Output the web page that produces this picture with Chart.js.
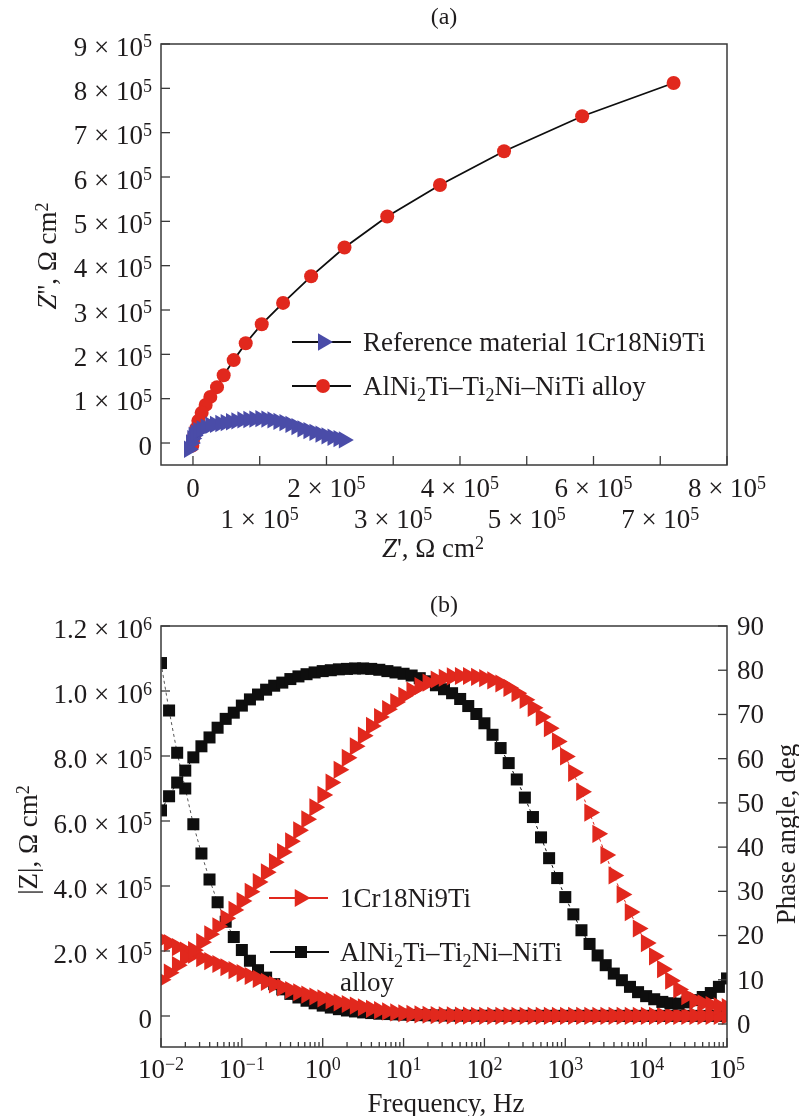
<!DOCTYPE html>
<html>
<head>
<meta charset="utf-8">
<title>Impedance spectra</title>
<script src="https://cdn.jsdelivr.net/npm/chart.js@4.4.1/dist/chart.umd.min.js"></script>
<style>
  html, body { margin: 0; padding: 0; background: #fff; }
  canvas { display: block; }
</style>
</head>
<body>
<canvas id="nyquist" width="799" height="590"></canvas>
<canvas id="bode" width="799" height="526"></canvas>
<script>
// ============================
// EIS figure: (a) Nyquist, (b) Bode
// ============================

// -----------------------
// (a) Nyquist data, Ω cm²
// -----------------------
const refZre = [-6000, -3000, -1000, 1000, 4000, 8000, 13000, 19000, 26000, 33000, 41000, 49000, 57000, 65000, 74000, 83000,
  92000, 101000, 110000, 119000, 128000, 137000, 146000, 155000, 164000, 173000, 182000, 191000, 200000, 209000, 218000, 226000];
const refZim = [-14000, 0, 10000, 17000, 23000, 28000, 32000, 36000, 40000, 42000, 44000, 46000, 48000, 50000, 52000, 53000,
  54000, 55000, 54000, 52000, 49000, 46000, 42000, 37000, 32000, 28000, 24000, 20000, 16000, 13000, 10000, 7000];

const alloyZre = [720000, 583000, 466000, 370000, 291000, 227000, 177000, 135000, 103000, 79000, 61000,
  46000, 36000, 26000, 19000, 13000, 8000, 5000, 2000, 0, -1000];
const alloyZim = [812000, 737000, 658000, 582000, 511000, 441000, 376000, 316000, 268000, 225000, 187000,
  153000, 126000, 104000, 86000, 68000, 50000, 33000, 18000, 5000, -6000];

const nyqXTicks = [0, 100000, 200000, 300000, 400000, 500000, 600000, 700000, 800000];
const nyqYTicks = [0, 100000, 200000, 300000, 400000, 500000, 600000, 700000, 800000, 900000];

// -----------------------
// (b) Bode data (10 points per decade)
// -----------------------
const logFreq = [-2.0, -1.9, -1.8, -1.7, -1.6, -1.5, -1.4, -1.3, -1.2, -1.1,
  -1.0, -0.9, -0.8, -0.7, -0.6, -0.5, -0.4, -0.3, -0.2, -0.1,
  0.0, 0.1, 0.2, 0.3, 0.4, 0.5, 0.6, 0.7, 0.8, 0.9,
  1.0, 1.1, 1.2, 1.3, 1.4, 1.5, 1.6, 1.7, 1.8, 1.9,
  2.0, 2.1, 2.2, 2.3, 2.4, 2.5, 2.6, 2.7, 2.8, 2.9,
  3.0, 3.1, 3.2, 3.3, 3.4, 3.5, 3.6, 3.7, 3.8, 3.9,
  4.0, 4.1, 4.2, 4.3, 4.4, 4.5, 4.6, 4.7, 4.8, 4.9,
  5.0];

const refModZ = [235000, 224000, 212000, 201000, 189000, 178000, 169000, 160000, 150000, 141000,
  132000, 123000, 114000, 105000, 97000, 88000, 80000, 73000, 66000, 60000,
  54000, 48000, 42000, 37000, 32000, 27000, 22000, 18000, 14000, 11000,
  8500, 6500, 5000, 3800, 2900, 2200, 1700, 1300, 1000, 800,
  650, 550, 470, 410, 360, 320, 290, 270, 250, 235,
  225, 215, 205, 200, 195, 190, 186, 183, 180, 178,
  176, 174, 172, 171, 170, 169, 168, 167, 166, 165,
  164];
const refPhase = [10.0, 11.6, 13.3, 15.0, 16.7, 18.5, 20.3, 22.1, 23.9, 25.8,
  27.8, 29.9, 32.1, 34.3, 36.6, 38.9, 41.3, 43.8, 46.3, 49.0,
  51.8, 54.6, 57.5, 60.2, 62.8, 65.2, 67.4, 69.4, 71.2, 72.8,
  74.2, 75.4, 76.4, 77.2, 77.9, 78.3, 78.6, 78.7, 78.7, 78.5,
  78.2, 77.7, 77.0, 76.0, 74.8, 73.3, 71.5, 69.4, 66.9, 63.9,
  60.5, 56.8, 52.5, 47.8, 43.0, 38.2, 33.6, 29.3, 25.3, 21.6,
  18.3, 15.3, 12.4, 9.8, 7.8, 6.3, 5.3, 4.7, 4.3, 4.0,
  3.8];
const alloyModZ = [1086000, 940000, 810000, 700000, 590000, 500000, 420000, 350000, 290000, 243000,
  203000, 170000, 141000, 118000, 98000, 82000, 68000, 57000, 47000, 39000,
  32000, 26000, 21000, 17000, 14000, 11000, 9000, 7000, 6000, 5000,
  4000, 3200, 2600, 2100, 1700, 1400, 1200, 1000, 900, 800,
  700, 650, 600, 560, 530, 500, 480, 460, 440, 430,
  420, 410, 400, 395, 390, 385, 380, 378, 376, 374,
  372, 370, 369, 368, 367, 366, 365, 364, 363, 362,
  361];
const alloyPhase = [48.3, 51.5, 54.6, 57.3, 60.3, 62.8, 64.8, 67.0, 69.0, 70.4,
  72.0, 73.4, 74.5, 75.6, 76.5, 77.2, 78.0, 78.6, 79.1, 79.5,
  79.8, 80.0, 80.2, 80.3, 80.4, 80.4, 80.3, 80.1, 79.8, 79.5,
  79.2, 78.8, 78.2, 77.5, 76.6, 75.7, 74.8, 73.5, 71.9, 70.1,
  68.0, 65.4, 62.4, 59.0, 55.3, 51.2, 46.8, 42.2, 37.5, 33.0,
  28.7, 24.8, 21.2, 18.1, 15.5, 13.3, 11.4, 9.9, 8.4, 7.2,
  6.3, 5.6, 5.0, 4.7, 4.6, 4.9, 5.4, 6.1, 7.0, 8.4,
  10.3];

const bodeModTicks = [0, 200000, 400000, 600000, 800000, 1000000, 1200000];
const bodePhaseTicks = [0, 10, 20, 30, 40, 50, 60, 70, 80, 90];
const bodeDecades = [-2, -1, 0, 1, 2, 3, 4, 5];

// -----------------------
// Look
// -----------------------
const SERIF = '"Liberation Serif", "Times New Roman", Times, serif';
const INK = '#1f1c1d';
const RED = '#e1281d';
const BLUE = '#4a4ca8';
const BLACK = '#0e0e0e';
const FRAME = '#3a3a3a';
const FS = 27;

const TRI_A = 10;    // Nyquist triangles
const DOT_A = 7;     // Nyquist circles
const TRI_B = 10.5;  // Bode triangles
const SQ_B = 8.5;    // Bode squares

// -----------------------
// Text helpers (sub/superscripts)
// -----------------------
function setFont(ctx, mode, size) {
  const s = (mode === 'sup' || mode === 'sub') ? Math.round(size * 0.68) : size;
  ctx.font = (mode === 'it' ? 'italic ' : '') + s + 'px ' + SERIF;
}

function richWidth(ctx, parts, size) {
  let w = 0;
  for (const [t, m] of parts) { setFont(ctx, m, size); w += ctx.measureText(t).width; }
  return w;
}

function drawRich(ctx, parts, x, y, align = 'left', size = FS) {
  const w = richWidth(ctx, parts, size);
  let cx = align === 'center' ? x - w / 2 : align === 'right' ? x - w : x;
  ctx.fillStyle = INK;
  ctx.textAlign = 'left';
  ctx.textBaseline = 'alphabetic';
  for (const [t, m] of parts) {
    setFont(ctx, m, size);
    const dy = m === 'sup' ? -size * 0.3 : m === 'sub' ? size * 0.24 : 0;
    ctx.fillText(t, cx, y + dy);
    cx += ctx.measureText(t).width;
  }
}

function drawRotated(ctx, parts, cx, cy, size = FS) {
  ctx.save();
  ctx.translate(cx, cy);
  ctx.rotate(-Math.PI / 2);
  drawRich(ctx, parts, 0, size * 0.33, 'center', size);
  ctx.restore();
}

function sciParts(v, digits) {
  if (v === 0) return [['0', '']];
  const e = Math.floor(Math.log10(v) + 1e-9);
  const m = v / Math.pow(10, e);
  return [[m.toFixed(digits) + ' \u00d7 10', ''], [String(e), 'sup']];
}

function decadeParts(e) {
  return [['10', ''], [e < 0 ? '\u2212' + (-e) : String(e), 'sup']];
}

function tickLine(ctx, x1, y1, x2, y2) {
  ctx.beginPath();
  ctx.moveTo(x1, y1);
  ctx.lineTo(x2, y2);
  ctx.stroke();
}

function frame(ctx, a) {
  ctx.strokeStyle = FRAME;
  ctx.lineWidth = 1.5;
  ctx.strokeRect(a.left, a.top, a.right - a.left, a.bottom - a.top);
}

function legendRow(ctx, x, y, marker, lineColor) {
  ctx.save();
  ctx.strokeStyle = lineColor;
  ctx.lineWidth = 2;
  tickLine(ctx, x - 31, y, x + 28, y);
  ctx.fillStyle = marker.color;
  Chart.helpers.drawPoint(ctx, { pointStyle: marker.style, rotation: marker.rotation || 0, radius: marker.radius, borderWidth: 0 }, x, y);
  ctx.restore();
}

const alloyName = [['AlNi', ''], ['2', 'sub'], ['Ti\u2013Ti', ''], ['2', 'sub'], ['Ni\u2013NiTi', '']];

// -----------------------
// (a) Nyquist
// -----------------------
const nyquistAxes = {
  id: 'nyquistAxes',
  afterDraw(chart) {
    const { ctx, chartArea: a, scales: { x, y } } = chart;
    ctx.save();
    ctx.strokeStyle = FRAME;
    ctx.lineWidth = 1.3;
    nyqXTicks.forEach((v, i) => {
      const px = x.getPixelForValue(v);
      tickLine(ctx, px, a.bottom, px, a.bottom - 9);
      const row = i % 2 === 0 ? 0 : 1;
      drawRich(ctx, sciParts(v, 0), px, a.bottom + 32 + row * 31, 'center');
    });
    nyqYTicks.forEach(v => {
      const py = y.getPixelForValue(v);
      tickLine(ctx, a.left, py, a.left + 9, py);
      drawRich(ctx, sciParts(v, 0), a.left - 9, py + 11.5, 'right');
    });
    frame(ctx, a);

    drawRich(ctx, [['(a)', '']], 444, 24, 'center', 24);
    drawRich(ctx, [['Z', 'it'], ["', \u03a9 cm", ''], ['2', 'sup']], 433, 557, 'center');
    drawRotated(ctx, [['Z', 'it'], ["'', \u03a9 cm", ''], ['2', 'sup']], 47, 256);

    // legend
    legendRow(ctx, 323, 342, { style: 'triangle', rotation: 90, radius: TRI_A, color: BLUE }, BLACK);
    drawRich(ctx, [['Reference material 1Cr18Ni9Ti', '']], 363, 351);
    legendRow(ctx, 323, 386, { style: 'circle', radius: DOT_A, color: RED }, BLACK);
    drawRich(ctx, alloyName.concat([[' alloy', '']]), 363, 395);
    ctx.restore();
  }
};

new Chart(document.getElementById('nyquist'), {
  type: 'line',
  data: {
    datasets: [
      {
        label: 'Reference material 1Cr18Ni9Ti',
        data: refZre.map((v, i) => ({ x: v, y: refZim[i] })),
        borderColor: BLACK, borderWidth: 1.8,
        pointStyle: 'triangle', rotation: 90, pointRadius: TRI_A,
        pointBackgroundColor: BLUE, pointBorderWidth: 0
      },
      {
        label: 'AlNi2Ti-Ti2Ni-NiTi alloy',
        data: alloyZre.map((v, i) => ({ x: v, y: alloyZim[i] })),
        borderColor: BLACK, borderWidth: 1.8,
        pointStyle: 'circle', pointRadius: DOT_A,
        pointBackgroundColor: RED, pointBorderWidth: 0
      }
    ]
  },
  options: {
    responsive: false,
    animation: false,
    devicePixelRatio: 1,
    events: [],
    layout: { padding: { left: 161, right: 72, top: 44, bottom: 125 } },
    scales: {
      x: { type: 'linear', min: -47900, max: 800000, display: false },
      y: { type: 'linear', min: -49600, max: 900000, display: false }
    },
    plugins: { legend: { display: false }, tooltip: { enabled: false } }
  },
  plugins: [nyquistAxes]
});

// -----------------------
// (b) Bode
// -----------------------
const bodeAxes = {
  id: 'bodeAxes',
  afterDraw(chart) {
    const { ctx, chartArea: a, scales: { x, y, y2 } } = chart;
    ctx.save();
    ctx.strokeStyle = FRAME;
    ctx.lineWidth = 1.3;
    bodeDecades.forEach(e => {
      const px = x.getPixelForValue(Math.pow(10, e));
      tickLine(ctx, px, a.bottom, px, a.bottom - 9);
      drawRich(ctx, decadeParts(e), px, a.bottom + 31, 'center');
      if (e < 5) {
        for (let m = 2; m <= 9; m++) {
          const mx = x.getPixelForValue(m * Math.pow(10, e));
          tickLine(ctx, mx, a.bottom, mx, a.bottom - 5);
        }
      }
    });
    bodeModTicks.forEach(v => {
      const py = y.getPixelForValue(v);
      tickLine(ctx, a.left, py, a.left + 9, py);
      drawRich(ctx, sciParts(v, 1), a.left - 9, py + 12, 'right');
    });
    bodePhaseTicks.forEach(v => {
      const py = y2.getPixelForValue(v);
      tickLine(ctx, a.right, py, a.right - 9, py);
      drawRich(ctx, [[String(v), '']], a.right + 10, py + 8.9, 'left');
    });
    frame(ctx, a);

    drawRich(ctx, [['(b)', '']], 444, 22, 'center', 24);
    drawRich(ctx, [['Frequency, Hz', '']], 446, 522, 'center');
    drawRotated(ctx, [['|Z|, \u03a9 cm', ''], ['2', 'sup']], 28, 250);
    drawRotated(ctx, [['Phase angle, deg', '']], 786, 244);

    // legend
    legendRow(ctx, 300, 308, { style: 'triangle', rotation: 90, radius: TRI_B, color: RED }, RED);
    drawRich(ctx, [['1Cr18Ni9Ti', '']], 340, 317);
    legendRow(ctx, 301, 362, { style: 'rect', radius: SQ_B, color: BLACK }, BLACK);
    drawRich(ctx, alloyName, 340, 371);
    drawRich(ctx, [['alloy', '']], 340, 401);
    ctx.restore();
  }
};

const bodeSeries = vals => logFreq.map((lf, i) => ({ x: Math.pow(10, lf), y: vals[i] }));

new Chart(document.getElementById('bode'), {
  type: 'line',
  data: {
    datasets: [
      {
        label: '1Cr18Ni9Ti phase',
        data: bodeSeries(refPhase), yAxisID: 'y2',
        borderColor: RED, borderWidth: 1, borderDash: [3, 3],
        pointStyle: 'triangle', rotation: 90, pointRadius: TRI_B,
        pointBackgroundColor: RED, pointBorderWidth: 0
      },
      {
        label: 'alloy phase',
        data: bodeSeries(alloyPhase), yAxisID: 'y2',
        borderColor: BLACK, borderWidth: 1, borderDash: [3, 3],
        pointStyle: 'rect', pointRadius: SQ_B,
        pointBackgroundColor: BLACK, pointBorderWidth: 0
      },
      {
        label: '1Cr18Ni9Ti |Z|',
        data: bodeSeries(refModZ), yAxisID: 'y',
        borderColor: RED, borderWidth: 1, borderDash: [3, 3],
        pointStyle: 'triangle', rotation: 90, pointRadius: TRI_B,
        pointBackgroundColor: RED, pointBorderWidth: 0
      },
      {
        label: 'alloy |Z|',
        data: bodeSeries(alloyModZ), yAxisID: 'y',
        borderColor: '#555', borderWidth: 1, borderDash: [3, 3],
        pointStyle: 'rect', pointRadius: SQ_B,
        pointBackgroundColor: BLACK, pointBorderWidth: 0
      }
    ]
  },
  options: {
    responsive: false,
    animation: false,
    devicePixelRatio: 1,
    events: [],
    layout: { padding: { left: 161, right: 72, top: 36, bottom: 69 } },
    scales: {
      x: { type: 'logarithmic', min: 0.01, max: 100000, display: false },
      y: { type: 'linear', position: 'left', min: -95400, max: 1200000, display: false },
      y2: { type: 'linear', position: 'right', min: -5.2, max: 90, display: false }
    },
    plugins: { legend: { display: false }, tooltip: { enabled: false } }
  },
  plugins: [bodeAxes]
});
</script>
</body>
</html>
